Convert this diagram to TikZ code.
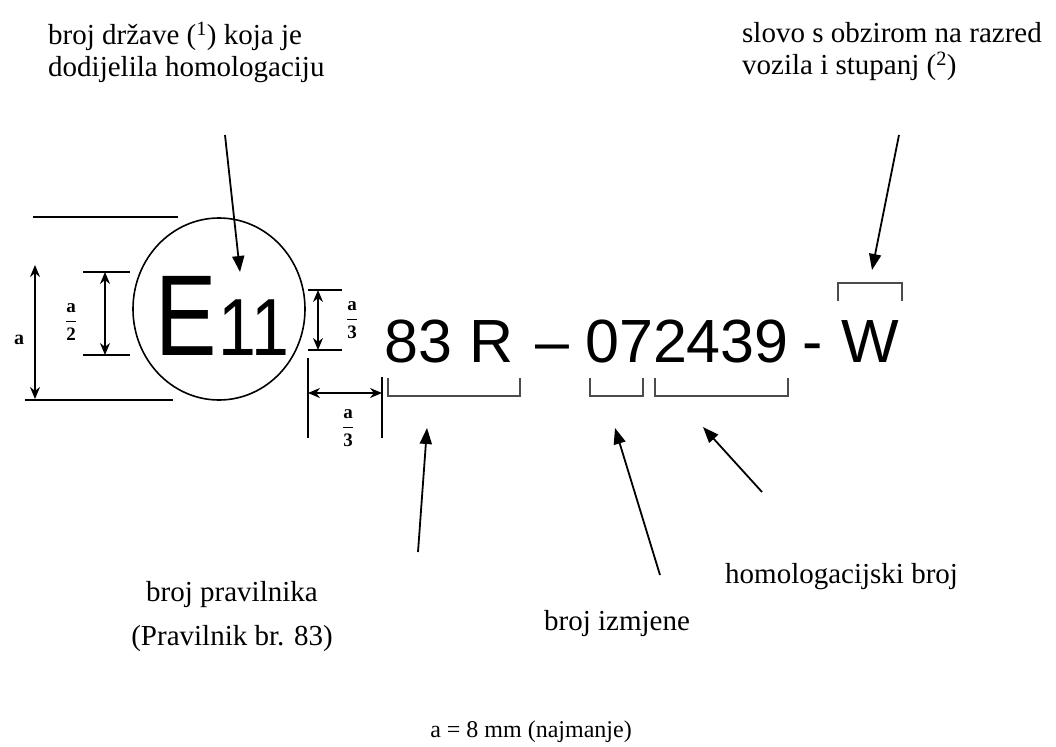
\documentclass[tikz,border=0pt]{standalone}
\usepackage{fontspec}
\setmainfont{Liberation Serif}
\newfontfamily\platefont{Liberation Sans}
\usetikzlibrary{arrows.meta,shapes.geometric}
\newcommand\dimfrac[2]{$\displaystyle\frac{\mathbf{#1}}{\mathbf{#2}}$}
\begin{document}
\begin{tikzpicture}[x=1bp,y=-1bp,
  lbl/.style={inner sep=0pt, font=\fontsize{29bp}{32bp}\selectfont, align=left},
  lblc/.style={inner sep=0pt, font=\fontsize{29bp}{32bp}\selectfont, align=center},
  ptr/.style={line width=1.8bp, -{Triangle[length=16bp,width=12bp]}},
  dimarrow/.style={line width=1.2bp, {Stealth[length=12bp,width=10bp]}-{Stealth[length=12bp,width=10bp]}},
  extline/.style={line width=1.2bp},
  brk/.style={line width=1.4bp, draw=black!70},
  big/.style={inner sep=0pt, anchor=base, font=\platefont\fontsize{61bp}{64bp}\selectfont},
  fracnode/.style={inner sep=0pt, font=\fontsize{19bp}{21bp}\selectfont}]
\useasboundingbox (0,0) rectangle (1056,747);

% ring with E11
\node[draw, ellipse, line width=1.6bp, minimum width=172bp, minimum height=182bp, inner sep=0pt] (ring) at (219,309) {};
\node[inner sep=0pt, anchor=base, font=\platefont\fontsize{115bp}{120bp}\selectfont] (E) at (186,355) {\scalebox{0.8}[1]{E}};
\node[inner sep=0pt, anchor=base, font=\platefont\fontsize{81bp}{84bp}\selectfont] (eleven) at (254,355) {\scalebox{0.84}[1]{11}};

% approval number
\node[big] (reg) at (449,362) {83 R};
\node[big] (dash1) at (552,362) {–};
\node[big] (appr) at (687,362) {072439};
\node[big] (dash2) at (813,362) {-};
\node[big] (W) at (870,362) {W};

% brackets
\draw[brk] (838,301) -- (838,283) -- (902,283) -- (902,301);
\draw[brk] (388,378) -- (388,396) -- (520,396) -- (520,378);
\draw[brk] (590,378) -- (590,396) -- (643,396) -- (643,378);
\draw[brk] (655,378) -- (655,396) -- (788,396) -- (788,378);

% dimension lines
\draw[extline] (33,217) -- (178,217);
\draw[extline] (25,400) -- (173,400);
\draw[dimarrow] (35,265) -- (35,399);
\node[inner sep=0pt, font=\bfseries\fontsize{20bp}{22bp}\selectfont] (alab) at (19,340) {a};
\draw[extline] (83,272) -- (130,272);
\draw[extline] (83,355) -- (130,355);
\draw[dimarrow] (105,272) -- (105,355);
\node[fracnode] (half) at (71,322) {\dimfrac{a}{2}};
\draw[extline] (308,290) -- (342,290);
\draw[extline] (308,350) -- (342,350);
\draw[dimarrow] (318,290) -- (318,350);
\node[fracnode] (thirdv) at (352,320) {\dimfrac{a}{3}};
\draw[extline] (308,358) -- (308,438);
\draw[extline] (382,377) -- (382,438);
\draw[dimarrow] (308,393) -- (382,393);
\node[fracnode] (thirdh) at (348,428) {\dimfrac{a}{3}};

% labels
\node[lbl, anchor=north west] (country) at (48,22) {broj države (\textsuperscript{1}) koja je\\dodijelila homologaciju};
\node[lbl, anchor=north west] (letter) at (742,22) {slovo s obzirom na razred\\vozila i stupanj (\textsuperscript{2})};
\node[lbl, anchor=base west] (homol) at (725,583) {homologacijski broj};
\node[lblc, anchor=base] (regl) at (232,601) {broj pravilnika};
\node[lblc, anchor=base] (regl2) at (232,645) {(Pravilnik br. 83)};
\node[lblc, anchor=base] (amend) at (617,630) {broj izmjene};
\node[inner sep=0pt, anchor=base, font=\fontsize{24bp}{26bp}\selectfont] (note) at (531,737) {a = 8 mm (najmanje)};

% pointer arrows
\coordinate (c1s) at (225,135); \coordinate (c1e) at (240,272);
\coordinate (c2s) at (899,135); \coordinate (c2e) at (872,270);
\coordinate (c3s) at (418,552); \coordinate (c3e) at (427,428);
\coordinate (c4s) at (660,575); \coordinate (c4e) at (615,428);
\coordinate (c5s) at (762,492); \coordinate (c5e) at (703,427);
\draw[ptr] (c1s) -- (c1e);
\draw[ptr] (c2s) -- (c2e);
\draw[ptr] (c3s) -- (c3e);
\draw[ptr] (c4s) -- (c4e);
\draw[ptr] (c5s) -- (c5e);
\end{tikzpicture}
\end{document}
